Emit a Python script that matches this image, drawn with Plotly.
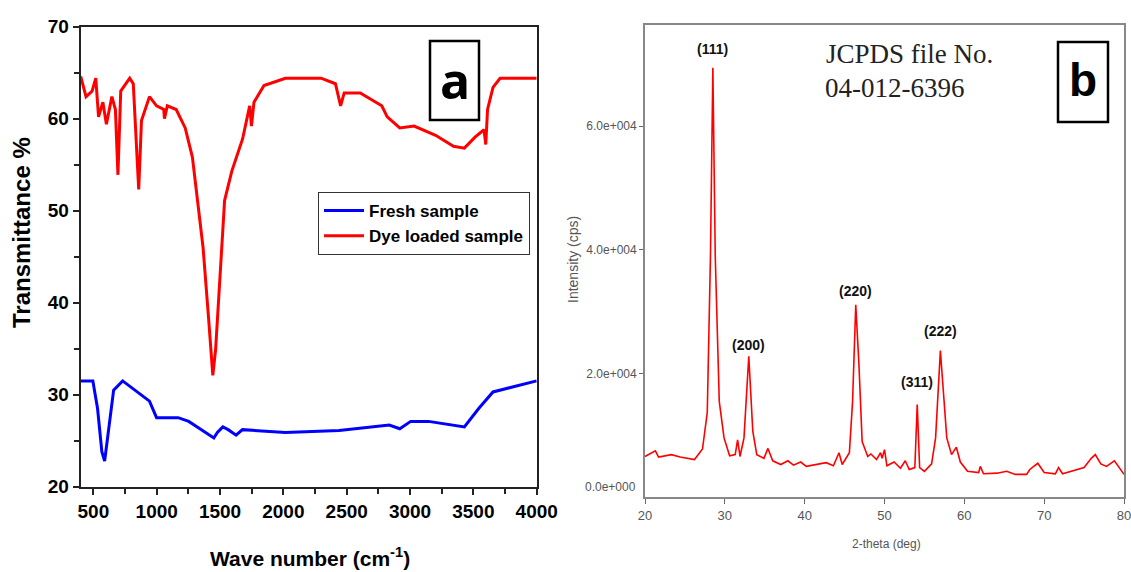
import plotly.graph_objects as go

# ---------------- Panel a: FTIR ----------------
dye_wn = [400, 442, 490, 519, 541, 575, 603, 646, 674, 694, 716, 787, 815, 844, 858, 880, 943, 999,
          1056, 1061, 1084, 1154, 1225, 1282, 1324, 1366, 1409, 1443, 1465, 1494, 1536, 1593, 1678,
          1734, 1748, 1768, 1847, 2016, 2297, 2411, 2452, 2480, 2607, 2777, 2820, 2919, 3032, 3202,
          3343, 3429, 3513, 3584, 3598, 3612, 3655, 3711, 4000]
dye_t = [64.6, 62.4, 63.0, 64.4, 60.2, 61.8, 59.4, 62.4, 61.0, 53.9, 63.0, 64.4, 63.8, 56.3, 52.3, 59.8,
         62.4, 61.4, 61.0, 60.0, 61.4, 61.0, 59.0, 55.8, 51.1, 46.0, 38.4, 32.1, 34.9, 41.2, 51.1, 54.3,
         57.8, 61.4, 59.2, 61.8, 63.6, 64.4, 64.4, 63.8, 61.4, 62.8, 62.8, 61.4, 60.2, 59.0, 59.2, 58.2,
         57.0, 56.8, 58.0, 58.8, 57.2, 61.0, 63.4, 64.4, 64.4]

fresh_wn = [400, 496, 533, 567, 589, 618, 660, 731, 829, 943, 999, 1169, 1253, 1338, 1451, 1479, 1522,
            1564, 1627, 1677, 2016, 2440, 2836, 2919, 3005, 3146, 3343, 3429, 3542, 3655, 4000]
fresh_t = [31.5, 31.5, 28.5, 23.8, 22.8, 26.1, 30.5, 31.5, 30.5, 29.3, 27.5, 27.5, 27.1, 26.3, 25.3,
           25.9, 26.5, 26.2, 25.6, 26.2, 25.9, 26.1, 26.7, 26.3, 27.1, 27.1, 26.7, 26.5, 28.5, 30.3, 31.5]

# ---------------- Panel b: XRD ----------------
two_theta = [20, 21.3, 21.7, 23.3, 24.4, 26.2, 27.2, 27.8, 28.2, 28.5, 28.8, 29.3, 29.9, 30.6, 31.3, 31.6,
             31.9, 32.4, 33.0, 33.5, 34.0, 34.9, 35.4, 36.0, 37.0, 37.9, 38.6, 39.5, 40.2, 41.3, 42.7, 43.6,
             44.3, 44.7, 45.6, 46.0, 46.4, 46.8, 47.2, 47.9, 48.3, 49.0, 49.5, 49.7, 50.0, 50.3, 51.2,
             52.0, 52.6, 53.1, 53.8, 54.1, 54.4, 55.0, 55.9, 56.4, 57.0, 57.3, 57.8, 58.4, 59.0, 59.5,
             60.4, 61.8, 62.0, 62.4, 64.1, 65.3, 66.4, 67.8, 68.2, 69.2, 70.0, 71.4, 71.8, 72.3, 73.2,
             75.0, 75.9, 76.4, 77.1, 77.8, 78.8, 79.4, 80.0]
intensity = [6600, 7500, 6500, 6900, 6500, 6100, 7800, 13700, 39000, 69400, 39000, 15500, 9600, 6700, 6900,
             9300, 6600, 9600, 22800, 10700, 6900, 6300, 7900, 5900, 5300, 5900, 5200, 5700, 5000, 5300,
             5600, 5100, 7200, 5300, 7200, 15500, 31100, 21400, 9000, 6600, 7000, 6100, 7200, 6300, 7700,
             5100, 5700, 4700, 5900, 4500, 4800, 15000, 4800, 4200, 5400, 9600, 23700, 18400, 9600, 6900,
             8100, 5700, 4200, 4000, 5000, 3800, 3900, 4200, 3700, 3700, 4500, 5500, 4000, 3800, 4800,
             3800, 4100, 4800, 6300, 6900, 5400, 5000, 5900, 4800, 3700]

peak_labels = ["(111)", "(200)", "(220)", "(311)", "(222)"]
peak_x = [28.5, 33.0, 46.4, 54.1, 57.0]
peak_label_y = [70900, 23000, 31700, 17000, 25300]

xrd_yticks = [20000, 40000, 60000]
xrd_yticktext = ["2.0e+004", "4.0e+004", "6.0e+004"]

W, H = 1131, 572
def px(x): return x / W
def py(y): return 1 - y / H

fig = go.Figure()
fig.add_trace(go.Scatter(x=fresh_wn, y=fresh_t, mode="lines", name="Fresh sample",
                         line=dict(color="#0000FF", width=3), xaxis="x", yaxis="y"))
fig.add_trace(go.Scatter(x=dye_wn, y=dye_t, mode="lines", name="Dye loaded sample",
                         line=dict(color="#FF0000", width=3), xaxis="x", yaxis="y"))
fig.add_trace(go.Scatter(x=two_theta, y=intensity, mode="lines", showlegend=False,
                         line=dict(color="#FF0000", width=1.6), xaxis="x2", yaxis="y2"))

boldfont = dict(family="Liberation Sans, Arial", size=19, color="black", weight="bold")
fig.update_layout(
    width=W, height=H, margin=dict(l=0, r=0, t=0, b=0, autoexpand=False),
    paper_bgcolor="white", plot_bgcolor="white",
    showlegend=True,
    legend=dict(x=px(318), y=py(192), xanchor="left", yanchor="top",
                bordercolor="#333", borderwidth=1, bgcolor="white",
                font=dict(family="Liberation Sans, Arial", size=17, color="black", weight="bold"),
                itemwidth=40, tracegroupgap=0),
    xaxis=dict(domain=[px(80.7), px(536.7)], range=[400, 4000], anchor="y",
               tickvals=[500, 1000, 1500, 2000, 2500, 3000, 3500, 4000],
               ticks="outside", ticklen=6, tickwidth=1.5, tickcolor="#222",
               minor=dict(tickvals=[750, 1250, 1750, 2250, 2750, 3250, 3750], ticks="outside",
                          ticklen=5, tickwidth=1.5, tickcolor="#222"),
               showline=True, linecolor="#222", linewidth=2, mirror=True, showgrid=False,
               zeroline=False, tickfont=boldfont, ticklabeloverflow="allow"),
    yaxis=dict(domain=[py(486.7), py(26.7)], range=[20, 70], anchor="x",
               tickvals=[20, 30, 40, 50, 60, 70],
               ticks="outside", ticklen=6, tickwidth=1.5, tickcolor="#222",
               minor=dict(tickvals=[25, 35, 45, 55, 65], ticks="outside", ticklen=5,
                          tickwidth=1.5, tickcolor="#222"),
               showline=True, linecolor="#222", linewidth=2, mirror=True, showgrid=False,
               zeroline=False, tickfont=boldfont),
    xaxis2=dict(domain=[px(645), px(1124)], range=[20, 80], anchor="y2",
                tickvals=[20, 30, 40, 50, 60, 70, 80],
                ticks="outside", ticklen=5, tickwidth=1.2, tickcolor="#666",
                showline=True, linecolor="#888", linewidth=1.8, mirror=True, showgrid=False,
                zeroline=False, ticklabeloverflow="allow",
                tickfont=dict(family="Liberation Sans, Arial", size=13, color="#555")),
    yaxis2=dict(domain=[py(497.3), py(25)], range=[0, 76330], anchor="x2",
                tickvals=xrd_yticks, ticktext=xrd_yticktext,
                ticks="outside", ticklen=4, tickwidth=1.2, tickcolor="#666",
                showline=True, linecolor="#888", linewidth=1.8, mirror=True, showgrid=False,
                zeroline=False, tickfont=dict(family="Liberation Sans, Arial", size=12, color="#555")),
)

def note(text, x, y, size, color="black", family="Liberation Sans, Arial", angle=0,
         xanchor="center", yanchor="middle"):
    return dict(text=text, x=px(x), y=py(y), xref="paper", yref="paper", showarrow=False,
                textangle=angle, xanchor=xanchor, yanchor=yanchor,
                font=dict(family=family, size=size, color=color))

ann = [
    note("<b>Transmittance %</b>", 21.5, 232.5, 24, angle=-90),
    note("<b>Wave number (cm<sup>-1</sup>)</b>", 309.6, 557, 21),
    note("2-theta (deg)", 886, 544, 12, color="#555"),
    note("Intensity (cps)", 573, 260, 14, color="#555", angle=-90),
    note("0.0e+000", 638.5, 487, 12, color="#555", xanchor="right"),
    note("JCPDS file No.", 909.6, 54, 27, color="#222", family="Liberation Serif, Times New Roman"),
    note("04-012-6396", 894, 88, 27, color="#222", family="Liberation Serif, Times New Roman"),
    note("<b>a</b>", 454.5, 80, 50, family="Open Sans, Noto Sans"),
    note("<b>b</b>", 1083, 80, 46),
]
for t, xv, yv in zip(peak_labels, peak_x, peak_label_y):
    ann.append(dict(text="<b>" + t + "</b>", x=xv, y=yv, xref="x2", yref="y2", showarrow=False,
                    xanchor="center", yanchor="bottom",
                    font=dict(family="Liberation Sans, Arial", size=14, color="#111")))
fig.update_layout(annotations=ann)

fig.add_shape(type="rect", xref="paper", yref="paper", x0=px(430), x1=px(479), y0=py(120), y1=py(41),
              line=dict(color="black", width=2.5))
fig.add_shape(type="rect", xref="paper", yref="paper", x0=px(1058), x1=px(1108), y0=py(122), y1=py(42),
              line=dict(color="black", width=2.5))

fig.write_html("out.html",
               post_script="document.body.style.margin='0';document.body.style.overflow='hidden';")
